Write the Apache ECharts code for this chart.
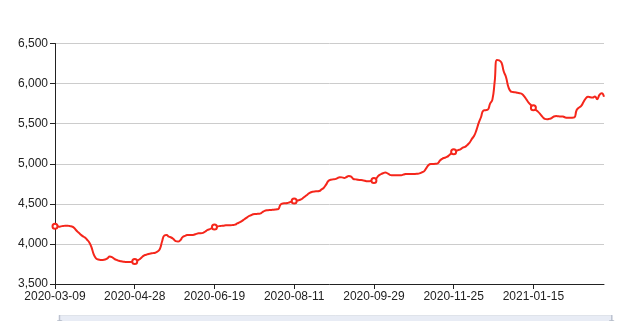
<!DOCTYPE html>
<html><head><meta charset="utf-8">
<script src="https://cdn.jsdelivr.net/npm/echarts@6/dist/echarts.min.js"></script>
<style>html,body{margin:0;padding:0;background:#fff}#c{width:619px;height:321px}</style>
</head><body><div id="c"></div>
<script>
const dates = [
"2020-03-09","2020-03-10","2020-03-11","2020-03-12","2020-03-13","2020-03-16","2020-03-17","2020-03-18","2020-03-19","2020-03-20",
"2020-03-23","2020-03-24","2020-03-25","2020-03-26","2020-03-27","2020-03-30","2020-03-31","2020-04-01","2020-04-02","2020-04-03",
"2020-04-07","2020-04-08","2020-04-09","2020-04-10","2020-04-13","2020-04-14","2020-04-15","2020-04-16","2020-04-17","2020-04-20",
"2020-04-21","2020-04-22","2020-04-23","2020-04-24","2020-04-27","2020-04-28","2020-04-29","2020-04-30","2020-05-06","2020-05-07",
"2020-05-08","2020-05-11","2020-05-12","2020-05-13","2020-05-14","2020-05-15","2020-05-18","2020-05-19","2020-05-20","2020-05-21",
"2020-05-22","2020-05-25","2020-05-26","2020-05-27","2020-05-28","2020-05-29","2020-06-01","2020-06-02","2020-06-03","2020-06-04",
"2020-06-05","2020-06-08","2020-06-09","2020-06-10","2020-06-11","2020-06-12","2020-06-15","2020-06-16","2020-06-17","2020-06-18",
"2020-06-19","2020-06-22","2020-06-23","2020-06-24","2020-06-29","2020-06-30","2020-07-01","2020-07-02","2020-07-03","2020-07-06",
"2020-07-07","2020-07-08","2020-07-09","2020-07-10","2020-07-13","2020-07-14","2020-07-15","2020-07-16","2020-07-17","2020-07-20",
"2020-07-21","2020-07-22","2020-07-23","2020-07-24","2020-07-27","2020-07-28","2020-07-29","2020-07-30","2020-07-31","2020-08-03",
"2020-08-04","2020-08-05","2020-08-06","2020-08-07","2020-08-10","2020-08-11","2020-08-12","2020-08-13","2020-08-14","2020-08-17",
"2020-08-18","2020-08-19","2020-08-20","2020-08-21","2020-08-24","2020-08-25","2020-08-26","2020-08-27","2020-08-28","2020-08-31",
"2020-09-01","2020-09-02","2020-09-03","2020-09-04","2020-09-07","2020-09-08","2020-09-09","2020-09-10","2020-09-11","2020-09-14",
"2020-09-15","2020-09-16","2020-09-17","2020-09-18","2020-09-21","2020-09-22","2020-09-23","2020-09-24","2020-09-25","2020-09-28",
"2020-09-29","2020-09-30","2020-10-09","2020-10-12","2020-10-13","2020-10-14","2020-10-15","2020-10-16","2020-10-19","2020-10-20",
"2020-10-21","2020-10-22","2020-10-23","2020-10-26","2020-10-27","2020-10-28","2020-10-29","2020-10-30","2020-11-02","2020-11-03",
"2020-11-04","2020-11-05","2020-11-06","2020-11-09","2020-11-10","2020-11-11","2020-11-12","2020-11-13","2020-11-16","2020-11-17",
"2020-11-18","2020-11-19","2020-11-20","2020-11-23","2020-11-24","2020-11-25","2020-11-26","2020-11-27","2020-11-30","2020-12-01",
"2020-12-02","2020-12-03","2020-12-04","2020-12-07","2020-12-08","2020-12-09","2020-12-10","2020-12-11","2020-12-14","2020-12-15",
"2020-12-16","2020-12-17","2020-12-18","2020-12-21","2020-12-22","2020-12-23","2020-12-24","2020-12-25","2020-12-28","2020-12-29",
"2020-12-30","2021-01-04","2021-01-05","2021-01-06","2021-01-07","2021-01-08","2021-01-11","2021-01-12","2021-01-13","2021-01-14",
"2021-01-15","2021-01-18","2021-01-19","2021-01-20","2021-01-21","2021-01-22","2021-01-25","2021-01-26","2021-01-27","2021-01-28",
"2021-01-29","2021-02-01","2021-02-02","2021-02-03","2021-02-04","2021-02-05","2021-02-08","2021-02-09","2021-02-10","2021-02-18",
"2021-02-19","2021-02-22","2021-02-23","2021-02-24","2021-02-25","2021-02-26","2021-03-01","2021-03-02","2021-03-03","2021-03-04",
"2021-03-05","2021-03-08"
];
const prices = [
4220,4220,4215,4222,4225,4228,4225,4220,4210,4180,
4150,4125,4100,4083,4055,4020,3960,3870,3820,3805,
3800,3800,3805,3820,3842,3835,3815,3800,3790,3783,
3778,3775,3775,3775,3776,3780,3790,3805,3830,3855,
3865,3875,3880,3885,3890,3905,3935,4030,4105,4110,
4090,4080,4060,4035,4030,4045,4085,4100,4110,4112,
4112,4115,4125,4133,4133,4138,4155,4175,4185,4200,
4210,4215,4222,4225,4228,4232,4233,4233,4235,4240,
4255,4268,4285,4305,4325,4345,4358,4370,4374,4375,
4378,4395,4412,4420,4422,4424,4426,4430,4435,4490,
4505,4507,4510,4520,4530,4536,4540,4545,4555,4575,
4598,4620,4640,4650,4655,4657,4660,4680,4700,4740,
4785,4800,4805,4808,4820,4832,4830,4823,4835,4848,
4840,4810,4805,4800,4798,4795,4788,4782,4782,4785,
4790,4815,4850,4869,4882,4890,4880,4862,4857,4856,
4856,4857,4858,4865,4872,4873,4872,4873,4873,4875,
4880,4892,4905,4945,4985,4997,4998,5000,5005,5040,
5062,5075,5085,5105,5130,5150,5160,5170,5180,5200,
5210,5235,5263,5310,5350,5420,5510,5580,5662,5668,
5675,5750,5800,6020,6295,6290,6260,6150,6080,5960,
5905,5895,5892,5885,5880,5870,5840,5800,5760,5730,
5700,5675,5650,5620,5585,5560,5555,5560,5570,5590,
5595,5592,5590,5588,5578,5575,5575,5575,5578,5670,
5700,5722,5770,5815,5835,5830,5825,5840,5805,5860,
5880,5835
];
const yMin = 3500, yMax = 6500, yStep = 500;

const chart = echarts.init(document.getElementById('c'), null, {renderer: 'canvas'});
const font = 'Liberation Sans, Arial, sans-serif';
chart.setOption({
  animation: false,
  backgroundColor: '#ffffff',
  grid: {left: 55, right: 15, top: 43.5, bottom: 37, containLabel: false},
  xAxis: {
    type: 'category', data: dates, boundaryGap: false,
    axisLine: {lineStyle: {color: '#222', width: 1}},
    axisTick: {show: true, interval: 34, length: 5, lineStyle: {color: '#222'}},
    axisLabel: {interval: 34, color: '#222', fontSize: 12, fontFamily: font, margin: 7}
  },
  yAxis: {
    type: 'value', min: yMin, max: yMax, interval: yStep,
    axisLine: {show: true, lineStyle: {color: '#222', width: 1}},
    axisTick: {show: true, length: 5, lineStyle: {color: '#222'}},
    axisLabel: {color: '#222', fontSize: 12, fontFamily: font, margin: 7,
      formatter: v => v.toLocaleString('en-US')},
    splitLine: {lineStyle: {color: '#cccccc', width: 1}}
  },
  dataZoom: [{
    type: 'slider', xAxisIndex: 0, start: 0, end: 100,
    left: 58, right: 7, top: 315, height: 30,
    showDataShadow: false, showDetail: false,
    brushSelect: false, moveHandleSize: 0,
    backgroundColor: '#e9edf5', fillerColor: 'rgba(232,236,245,1)',
    borderColor: '#dfe3ea',
    handleStyle: {color: '#c9cfda', borderColor: '#b5bcc9'},
    handleSize: '100%'
  }],
  series: [{
    type: 'line', data: prices, smooth: true,
    symbol: 'emptyCircle', symbolSize: 5,
    lineStyle: {color: '#f5261b', width: 2},
    itemStyle: {color: '#f5261b', borderColor: '#f5261b', borderWidth: 1}
  }]
});
</script></body></html>
